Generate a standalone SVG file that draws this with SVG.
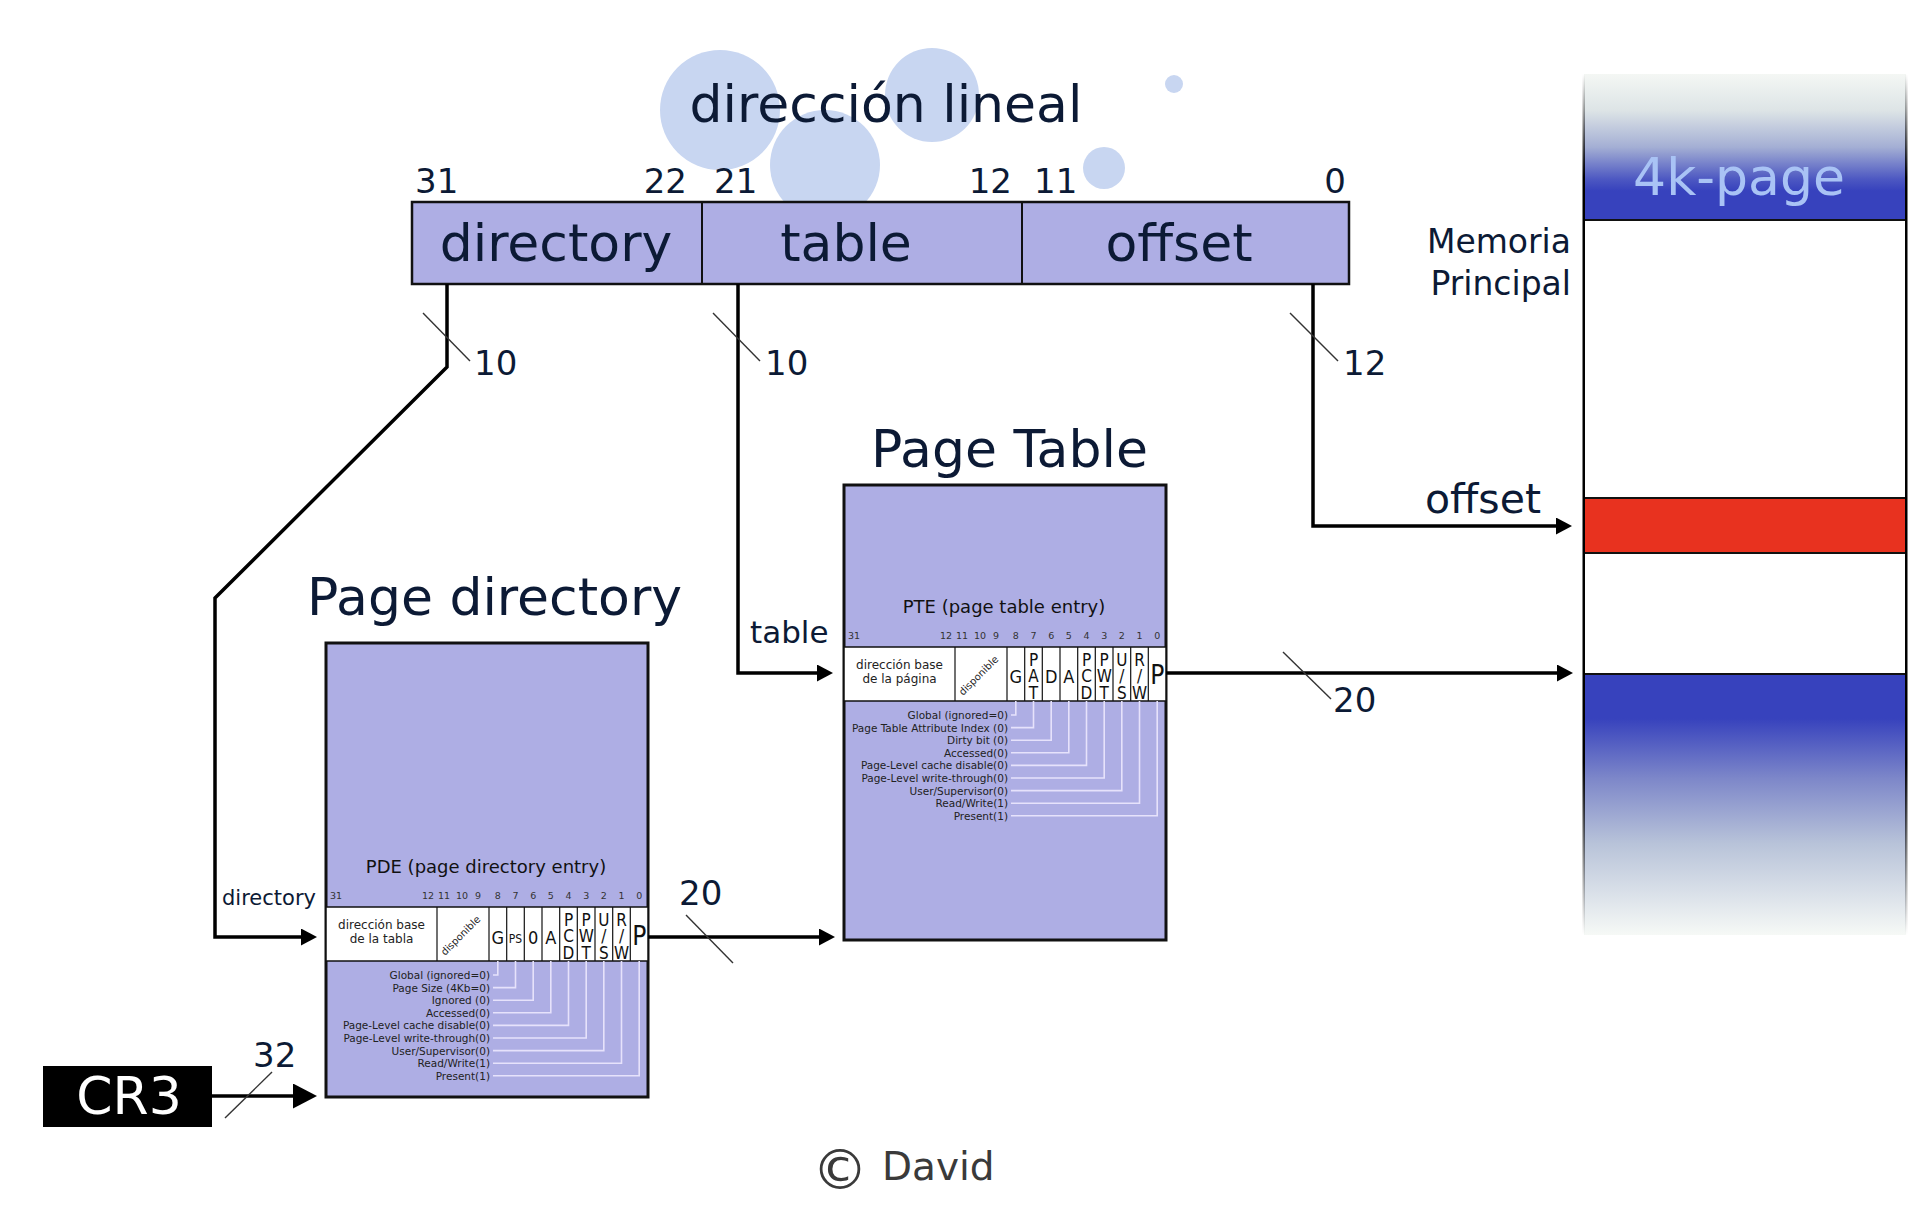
<svg xmlns="http://www.w3.org/2000/svg" width="1920" height="1206" viewBox="0 0 1920 1206">
<defs>
<style>
text{font-family:"DejaVu Sans","Liberation Sans",sans-serif;fill:#0c1a35}
.big{font-size:52px}
.num{font-size:34px}
.conn{fill:none;stroke:#000;stroke-width:3.5;stroke-linejoin:miter}
.hash{fill:none;stroke:#333;stroke-width:1.4}
.box{fill:#aeaee4;stroke:#111;stroke-width:3}
.row{fill:#fff;stroke:#111;stroke-width:1.5}
.div{stroke:#111;stroke-width:1.2}
.bit{font-size:9.5px;fill:#333;text-anchor:middle}
.addr{font-size:12px;fill:#222;text-anchor:middle}
.disp{font-size:10px;fill:#222;text-anchor:middle}
.cl{font-family:"DejaVu Sans Condensed","DejaVu Sans",sans-serif;font-size:17px;fill:#111;text-anchor:middle}
.lbl{font-size:10.5px;fill:#222;text-anchor:end}
.lead{fill:none;stroke:#e6e2fb;stroke-width:1.6}
.etitle{font-size:18px;fill:#111;text-anchor:middle}
</style>
<marker id="arr" markerUnits="userSpaceOnUse" markerWidth="16" markerHeight="17" refX="4" refY="8.5" orient="auto"><path d="M0,0 L16,8.5 L0,17 z" fill="#000"/></marker>
<marker id="arrBig" markerUnits="userSpaceOnUse" markerWidth="24" markerHeight="25" refX="6" refY="12.5" orient="auto"><path d="M0,0 L24,12.5 L0,25 z" fill="#000"/></marker>
<linearGradient id="topBand" x1="0" y1="0" x2="0" y2="1">
<stop offset="0" stop-color="#f4f7f4"/><stop offset="0.25" stop-color="#dde4e6"/><stop offset="0.5" stop-color="#a4afd4"/><stop offset="0.72" stop-color="#4d58c2"/><stop offset="0.8" stop-color="#3742bd"/><stop offset="1" stop-color="#3742bd"/>
</linearGradient>
<linearGradient id="botBand" x1="0" y1="0" x2="0" y2="1">
<stop offset="0" stop-color="#3742bd"/><stop offset="0.17" stop-color="#3742bd"/><stop offset="0.4" stop-color="#7d87c9"/><stop offset="0.65" stop-color="#b8c3d9"/><stop offset="1" stop-color="#f6f9f6"/>
</linearGradient>
<linearGradient id="border" x1="0" y1="0" x2="0" y2="1">
<stop offset="0" stop-color="#000" stop-opacity="0"/><stop offset="0.12" stop-color="#000" stop-opacity="1"/><stop offset="0.8" stop-color="#000" stop-opacity="1"/><stop offset="1" stop-color="#000" stop-opacity="0"/>
</linearGradient>
</defs>
<rect x="0" y="0" width="1920" height="1206" fill="#fff"/>

<g id="bubbles" fill="#c8d6f1">
<circle cx="720" cy="110" r="60"/>
<circle cx="825" cy="165" r="55"/>
<circle cx="932" cy="95" r="47"/>
<circle cx="1104" cy="168" r="21"/>
<circle cx="1174" cy="84" r="9"/>
</g>

<g id="linear-address">
<text class="big" x="886" y="122" text-anchor="middle">dirección lineal</text>
<rect x="412" y="202" width="937" height="82" fill="#aeaee4" stroke="#111" stroke-width="2.5"/>
<line x1="702" y1="202" x2="702" y2="284" stroke="#111" stroke-width="2"/>
<line x1="1022" y1="202" x2="1022" y2="284" stroke="#111" stroke-width="2"/>
<text class="big" x="556" y="261" text-anchor="middle" fill="#000">directory</text>
<text class="big" x="846" y="261" text-anchor="middle" fill="#000">table</text>
<text class="big" x="1179" y="261" text-anchor="middle" fill="#000">offset</text>
<text class="num" x="415" y="193">31</text>
<text class="num" x="687" y="193" text-anchor="end">22</text>
<text class="num" x="714" y="193">21</text>
<text class="num" x="1012" y="193" text-anchor="end">12</text>
<text class="num" x="1034" y="193">11</text>
<text class="num" x="1346" y="193" text-anchor="end">0</text>
</g>

<g id="memory">
<rect x="1584" y="74" width="322" height="146" fill="url(#topBand)"/>
<rect x="1584" y="674" width="322" height="261" fill="url(#botBand)"/>
<rect x="1584" y="498" width="322" height="55" fill="#e8321f" stroke="#111" stroke-width="2"/>
<line x1="1584" y1="220" x2="1906" y2="220" stroke="#111" stroke-width="2"/>
<line x1="1584" y1="674" x2="1906" y2="674" stroke="#111" stroke-width="2"/>
<rect x="1582.5" y="74" width="2.5" height="861" fill="url(#border)"/>
<rect x="1905" y="74" width="2.5" height="861" fill="url(#border)"/>
<text x="1739" y="195" font-size="52" text-anchor="middle" style="fill:#a9c3f5">4k-page</text>
<text x="1571" y="253" font-size="33" text-anchor="end">Memoria</text>
<text x="1571" y="295" font-size="33" text-anchor="end">Principal</text>
</g>

<g id="cr3">
<rect x="43" y="1066" width="169" height="61" fill="#000"/>
<text x="129" y="1114" font-size="52" text-anchor="middle" style="fill:#fff">CR3</text>
</g>

<g id="page-directory">
<text class="big" x="307" y="615">Page directory</text>
<rect class="box" x="326" y="643" width="322" height="454"/>
<g transform="translate(326,907)">
<text class="etitle" x="160" y="-34">PDE (page directory entry)</text>
<text class="bit" x="4" y="-8.5" style="text-anchor:start">31</text>
<text class="bit" x="108" y="-8.5" style="text-anchor:end">12</text>
<text class="bit" x="118" y="-8.5">11</text>
<text class="bit" x="136" y="-8.5">10</text>
<text class="bit" x="152" y="-8.5">9</text>
<text class="bit" x="171.8" y="-8.5">8</text>
<text class="bit" x="189.5" y="-8.5">7</text>
<text class="bit" x="207.2" y="-8.5">6</text>
<text class="bit" x="224.8" y="-8.5">5</text>
<text class="bit" x="242.5" y="-8.5">4</text>
<text class="bit" x="260.2" y="-8.5">3</text>
<text class="bit" x="277.8" y="-8.5">2</text>
<text class="bit" x="295.5" y="-8.5">1</text>
<text class="bit" x="313.2" y="-8.5">0</text>
<rect class="row" x="0" y="0" width="322" height="54"/>
<g class="div">
<line x1="111" y1="0" x2="111" y2="54"/><line x1="163" y1="0" x2="163" y2="54"/><line x1="180.7" y1="0" x2="180.7" y2="54"/><line x1="198.3" y1="0" x2="198.3" y2="54"/><line x1="216" y1="0" x2="216" y2="54"/><line x1="233.7" y1="0" x2="233.7" y2="54"/><line x1="251.3" y1="0" x2="251.3" y2="54"/><line x1="269" y1="0" x2="269" y2="54"/><line x1="286.7" y1="0" x2="286.7" y2="54"/><line x1="304.3" y1="0" x2="304.3" y2="54"/>
</g>
<text class="addr" x="55.5" y="22">dirección base</text>
<text class="addr" x="55.5" y="36">de la tabla</text>
<text class="disp" transform="translate(137,31) rotate(-45)">disponible</text>
<text class="cl" x="171.8" y="37" style="font-size:18px">G</text>
<text class="cl" x="189.5" y="36" style="font-size:12px">PS</text>
<text class="cl" x="207.2" y="37" style="font-size:18px">0</text>
<text class="cl" x="224.8" y="37" style="font-size:18px">A</text>
<text class="cl" x="242.5" y="18.5">P</text><text class="cl" x="242.5" y="35">C</text><text class="cl" x="242.5" y="51.5">D</text>
<text class="cl" x="260.2" y="18.5">P</text><text class="cl" x="260.2" y="35">W</text><text class="cl" x="260.2" y="51.5">T</text>
<text class="cl" x="277.8" y="18.5">U</text><text class="cl" x="277.8" y="35">/</text><text class="cl" x="277.8" y="51.5">S</text>
<text class="cl" x="295.5" y="18.5">R</text><text class="cl" x="295.5" y="35">/</text><text class="cl" x="295.5" y="51.5">W</text>
<text class="cl" x="313.2" y="38" style="font-size:26px">P</text>
<path class="lead" d="M171.8,54V68H167 M189.5,54V80.6H167 M207.2,54V93.2H167 M224.8,54V105.8H167 M242.5,54V118.4H167 M260.2,54V131H167 M277.8,54V143.6H167 M295.5,54V156.2H167 M313.2,54V168.8H167"/>
<text class="lbl" x="164" y="72">Global (ignored=0)</text>
<text class="lbl" x="164" y="84.6">Page Size (4Kb=0)</text>
<text class="lbl" x="164" y="97.2">Ignored (0)</text>
<text class="lbl" x="164" y="109.8">Accessed(0)</text>
<text class="lbl" x="164" y="122.4">Page-Level cache disable(0)</text>
<text class="lbl" x="164" y="135">Page-Level write-through(0)</text>
<text class="lbl" x="164" y="147.6">User/Supervisor(0)</text>
<text class="lbl" x="164" y="160.2">Read/Write(1)</text>
<text class="lbl" x="164" y="172.8">Present(1)</text>
</g>
</g>

<g id="page-table">
<text class="big" x="871" y="467">Page Table</text>
<rect class="box" x="844" y="485" width="322" height="455"/>
<g transform="translate(844,647)">
<text class="etitle" x="160" y="-34">PTE (page table entry)</text>
<text class="bit" x="4" y="-8.5" style="text-anchor:start">31</text>
<text class="bit" x="108" y="-8.5" style="text-anchor:end">12</text>
<text class="bit" x="118" y="-8.5">11</text>
<text class="bit" x="136" y="-8.5">10</text>
<text class="bit" x="152" y="-8.5">9</text>
<text class="bit" x="171.8" y="-8.5">8</text>
<text class="bit" x="189.5" y="-8.5">7</text>
<text class="bit" x="207.2" y="-8.5">6</text>
<text class="bit" x="224.8" y="-8.5">5</text>
<text class="bit" x="242.5" y="-8.5">4</text>
<text class="bit" x="260.2" y="-8.5">3</text>
<text class="bit" x="277.8" y="-8.5">2</text>
<text class="bit" x="295.5" y="-8.5">1</text>
<text class="bit" x="313.2" y="-8.5">0</text>
<rect class="row" x="0" y="0" width="322" height="54"/>
<g class="div">
<line x1="111" y1="0" x2="111" y2="54"/><line x1="163" y1="0" x2="163" y2="54"/><line x1="180.7" y1="0" x2="180.7" y2="54"/><line x1="198.3" y1="0" x2="198.3" y2="54"/><line x1="216" y1="0" x2="216" y2="54"/><line x1="233.7" y1="0" x2="233.7" y2="54"/><line x1="251.3" y1="0" x2="251.3" y2="54"/><line x1="269" y1="0" x2="269" y2="54"/><line x1="286.7" y1="0" x2="286.7" y2="54"/><line x1="304.3" y1="0" x2="304.3" y2="54"/>
</g>
<text class="addr" x="55.5" y="22">dirección base</text>
<text class="addr" x="55.5" y="36">de la página</text>
<text class="disp" transform="translate(137,31) rotate(-45)">disponible</text>
<text class="cl" x="171.8" y="36" style="font-size:18px">G</text>
<text class="cl" x="189.5" y="18.5">P</text><text class="cl" x="189.5" y="35">A</text><text class="cl" x="189.5" y="51.5">T</text>
<text class="cl" x="207.2" y="36" style="font-size:18px">D</text>
<text class="cl" x="224.8" y="36" style="font-size:18px">A</text>
<text class="cl" x="242.5" y="18.5">P</text><text class="cl" x="242.5" y="35">C</text><text class="cl" x="242.5" y="51.5">D</text>
<text class="cl" x="260.2" y="18.5">P</text><text class="cl" x="260.2" y="35">W</text><text class="cl" x="260.2" y="51.5">T</text>
<text class="cl" x="277.8" y="18.5">U</text><text class="cl" x="277.8" y="35">/</text><text class="cl" x="277.8" y="51.5">S</text>
<text class="cl" x="295.5" y="18.5">R</text><text class="cl" x="295.5" y="35">/</text><text class="cl" x="295.5" y="51.5">W</text>
<text class="cl" x="313.2" y="37" style="font-size:26px">P</text>
<path class="lead" d="M171.8,54V68H167 M189.5,54V80.6H167 M207.2,54V93.2H167 M224.8,54V105.8H167 M242.5,54V118.4H167 M260.2,54V131H167 M277.8,54V143.6H167 M295.5,54V156.2H167 M313.2,54V168.8H167"/>
<text class="lbl" x="164" y="72">Global (ignored=0)</text>
<text class="lbl" x="164" y="84.6">Page Table Attribute Index (0)</text>
<text class="lbl" x="164" y="97.2">Dirty bit (0)</text>
<text class="lbl" x="164" y="109.8">Accessed(0)</text>
<text class="lbl" x="164" y="122.4">Page-Level cache disable(0)</text>
<text class="lbl" x="164" y="135">Page-Level write-through(0)</text>
<text class="lbl" x="164" y="147.6">User/Supervisor(0)</text>
<text class="lbl" x="164" y="160.2">Read/Write(1)</text>
<text class="lbl" x="164" y="172.8">Present(1)</text>
</g>
</g>

<g id="connectors">
<path class="conn" d="M447,284 V367 L215,598 V937 H305" marker-end="url(#arr)"/>
<path class="conn" d="M738,284 V673 H821" marker-end="url(#arr)"/>
<path class="conn" d="M1313,284 V526 H1560" marker-end="url(#arr)"/>
<path class="conn" d="M648,937 H823" stroke-width="4" marker-end="url(#arr)"/>
<path class="conn" d="M1166,673 H1561" stroke-width="4" marker-end="url(#arr)"/>
<path class="conn" d="M212,1096 H299" stroke-width="6" marker-end="url(#arrBig)"/>
<line class="hash" x1="423" y1="313" x2="470" y2="361"/>
<line class="hash" x1="713" y1="313" x2="760" y2="361"/>
<line class="hash" x1="1290" y1="313" x2="1338" y2="361"/>
<line class="hash" x1="686" y1="915" x2="733" y2="963"/>
<line class="hash" x1="1283" y1="652" x2="1331" y2="699"/>
<line class="hash" x1="272" y1="1072" x2="225" y2="1118"/>
<text class="num" x="474" y="375">10</text>
<text class="num" x="765" y="375">10</text>
<text class="num" x="1343" y="375">12</text>
<text class="num" x="679" y="905">20</text>
<text class="num" x="1333" y="712">20</text>
<text class="num" x="253" y="1067">32</text>
<text x="750" y="643" font-size="31">table</text>
<text x="222" y="905" font-size="21">directory</text>
<text x="1425" y="513" font-size="41">offset</text>
</g>

<g id="copyright">
<text x="812" y="1189" font-size="56" style="fill:#3a3a3a">©</text>
<text x="882" y="1180" font-size="39" style="fill:#3a3a3a">David</text>
</g>
</svg>
